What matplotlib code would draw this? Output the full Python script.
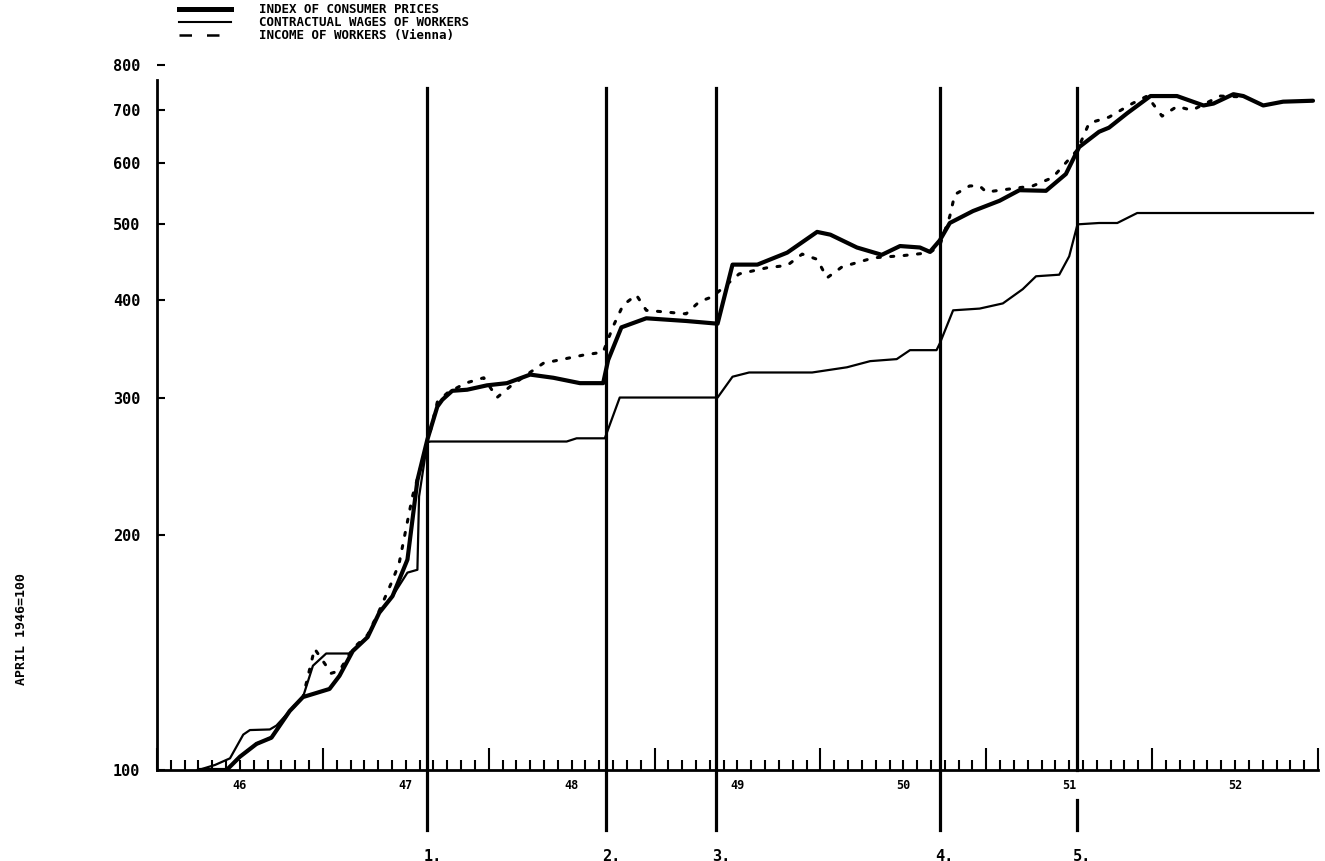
# WAGES AND PRICES, AUSTRIA 1946-1952
# LOG SCALE, APRIL 1946 = 100

import matplotlib as mpl
import matplotlib.pyplot as plt
import matplotlib.ticker as mticker
from matplotlib.lines import Line2D
import numpy as np

mpl.rc('font', family='DejaVu Sans Mono', weight='bold', size=9)

# index of consumer prices (decimal year, value)
cpi_t = [1946.25, 1946.42, 1946.50, 1946.60, 1946.69, 1946.80, 1946.88, 1947.04, 1947.10,
         1947.18, 1947.27, 1947.34, 1947.42, 1947.51, 1947.57, 1947.63, 1947.69, 1947.72,
         1947.78, 1947.87, 1947.99, 1948.11, 1948.25, 1948.39, 1948.55, 1948.69, 1948.72,
         1948.80, 1948.95, 1949.19, 1949.38, 1949.47, 1949.62, 1949.80, 1949.98, 1950.06,
         1950.22, 1950.37, 1950.48, 1950.60, 1950.66, 1950.72, 1950.78, 1950.92, 1951.08,
         1951.20, 1951.36, 1951.48, 1951.56, 1951.68, 1951.74, 1951.85, 1951.99, 1952.15,
         1952.31, 1952.37, 1952.49, 1952.55, 1952.67, 1952.79, 1952.97]
cpi_v = [100, 100, 104, 108, 110, 119, 124, 127, 132,
         142, 148, 159, 167, 186, 235, 265, 292, 298,
         306, 307, 311, 313, 321, 318, 313, 313, 335,
         369, 379, 376, 373, 444, 444, 460, 489, 485,
         467, 457, 469, 467, 461, 477, 502, 520, 536,
         553, 552, 580, 628, 657, 665, 694, 730, 730,
         710, 714, 734, 730, 710, 718, 720]

# contractual wages of workers
wage_t = [1946.25, 1946.35, 1946.44, 1946.52, 1946.56, 1946.68, 1946.72, 1946.80, 1946.88,
          1946.94, 1947.02, 1947.16, 1947.18, 1947.27, 1947.34, 1947.42, 1947.51, 1947.57,
          1947.58, 1947.63, 1947.65, 1948.47, 1948.53, 1948.70, 1948.79, 1949.38, 1949.47,
          1949.57, 1949.95, 1950.16, 1950.30, 1950.46, 1950.54, 1950.70, 1950.72, 1950.80,
          1950.96, 1951.10, 1951.22, 1951.30, 1951.44, 1951.50, 1951.55, 1951.68, 1951.79,
          1951.91, 1952.97]
wage_v = [100, 101.5, 103.5, 111, 112.5, 112.7, 114, 119, 124,
          136, 141, 141, 142.5, 148, 159, 167, 179, 180.5,
          224, 263, 263.5, 263.5, 266, 266, 300, 300, 319,
          323, 323, 328, 334, 336, 345, 345, 352, 388,
          390, 396, 413, 429, 431, 455, 500, 502, 502,
          517, 517]

# income of workers (Vienna)
inc_t = [1946.25, 1946.42, 1946.50, 1946.60, 1946.69, 1946.80, 1946.88, 1946.95, 1947.02,
         1947.05, 1947.10, 1947.18, 1947.27, 1947.34, 1947.42, 1947.46, 1947.54, 1947.63,
         1947.69, 1947.75, 1947.86, 1947.97, 1948.05, 1948.13, 1948.23, 1948.33, 1948.57,
         1948.69, 1948.75, 1948.81, 1948.89, 1948.95, 1949.19, 1949.27, 1949.35, 1949.51,
         1949.68, 1949.80, 1949.89, 1949.98, 1950.04, 1950.13, 1950.32, 1950.50, 1950.66,
         1950.72, 1950.78, 1950.81, 1950.90, 1950.96, 1951.00, 1951.28, 1951.40, 1951.55,
         1951.62, 1951.74, 1951.88, 1951.97, 1952.06, 1952.15, 1952.24, 1952.41, 1952.56]
inc_v = [100, 100, 104, 108, 110, 119, 124, 143, 136,
         133, 134, 143, 149, 160, 175, 184, 224, 262,
         296, 304, 313, 318, 300, 310, 321, 332, 340,
         343, 370, 394, 406, 388, 384, 398, 404, 432,
         440, 443, 458, 451, 427, 441, 453, 456, 460,
         470, 512, 546, 560, 560, 550, 560, 574, 623,
         674, 686, 714, 730, 688, 708, 700, 730, 728]

# wage-price agreements
agreements = [1947.63, 1948.71, 1949.37, 1950.72, 1951.55]
agreement_labels = ["1.", "2.", "3.", "4.", "5."]

year_labels = ["46", "47", "48", "49", "50", "51", "52"]
y_ticks = [100, 200, 300, 400, 500, 600, 700, 800]


fig = plt.figure(figsize=(13.25, 8.61), dpi=100)
ax = fig.add_axes([0.1185, 0.1057, 0.8762, 0.8188])
ax.set_yscale('log')

ax.plot(cpi_t, cpi_v, color='black', lw=3.0, solid_joinstyle='round', solid_capstyle='round')
ax.plot(wage_t, wage_v, color='black', lw=1.6)
ax.plot(inc_t, inc_v, color='black', lw=2.2, linestyle=(0, (1.0, 3.4)), dash_capstyle='round')

ax.set_xlim(1946, 1953)
ax.set_ylim(100, 800)

# vertical lines for the agreements, running below the axis
xt = ax.get_xaxis_transform()
for i in range(len(agreements)):
    t = agreements[i]
    if i == 4:
        ax.plot([t, t], [0, 0.967], transform=xt, color='black', lw=2.3, clip_on=False)
        ax.plot([t, t], [-0.043, -0.085], transform=xt, color='black', lw=2.3, clip_on=False)
    else:
        ax.plot([t, t], [-0.085, 0.967], transform=xt, color='black', lw=2.3, clip_on=False)
    ax.text(t + 0.03, -0.122, agreement_labels[i], transform=xt, ha='center', va='center',
            fontsize=11)

# year labels sit in the middle of each year
for i in range(len(year_labels)):
    ax.text(1946.5 + i, -0.022, year_labels[i], transform=xt, ha='center', va='center',
            fontsize=8.5)

# axes
ax.spines['top'].set_visible(False)
ax.spines['right'].set_visible(False)
ax.spines['left'].set_linewidth(2)
ax.spines['bottom'].set_linewidth(2)
ax.spines['left'].set_bounds(100, 765)

ax.set_yticks(y_ticks)
ax.yaxis.set_major_formatter(mticker.FormatStrFormatter('%d'))
ax.yaxis.set_minor_locator(mticker.NullLocator())
ax.tick_params(axis='y', direction='in', length=6, width=1.5, pad=12, labelsize=11)

ax.set_xticks(np.arange(1946, 1954))
ax.set_xticks(np.arange(1946, 1953.001, 1 / 12), minor=True)
ax.set_xticklabels([])
ax.tick_params(axis='x', which='major', direction='in', length=16, width=1.5)
ax.tick_params(axis='x', which='minor', direction='in', length=7, width=1.5)

fig.text(0.016, 0.27, 'APRIL 1946=100', rotation=90, ha='center', va='center', fontsize=9.5)

handles = [Line2D([], [], color='black', lw=3.6),
           Line2D([], [], color='black', lw=1.5),
           Line2D([], [], color='black', lw=1.8, linestyle=(0, (5, 6)))]
labels = ['INDEX OF CONSUMER PRICES', 'CONTRACTUAL WAGES OF WORKERS', 'INCOME OF WORKERS (Vienna)']
fig.legend(handles, labels, loc='upper left', bbox_to_anchor=(0.135, 0.996), frameon=False,
           fontsize=9, handlelength=4.2, handletextpad=2.2, labelspacing=0.0,
           borderaxespad=0, borderpad=0)

fig.savefig('out.png', dpi=100)
